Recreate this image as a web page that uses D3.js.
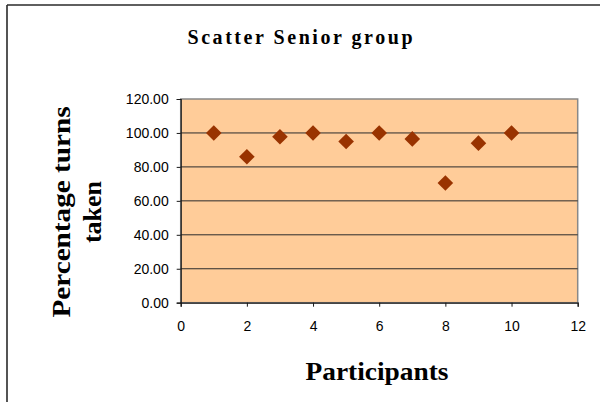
<!DOCTYPE html>
<html>
<head>
<meta charset="utf-8">
<script src="https://cdn.jsdelivr.net/npm/d3@7"></script>
<style>
html,body{margin:0;padding:0;background:#fff;}
svg{display:block;}
</style>
</head>
<body>
<svg id="chart" width="600" height="402"></svg>
<script>
const participants = [1, 2, 3, 4, 5, 6, 7, 8, 9, 10];
const percentTaken = [100, 86, 97.8, 100, 95, 100, 96.5, 70.5, 94, 100];
const xTicks = [0, 2, 4, 6, 8, 10, 12];
const yTicks = [0, 20, 40, 60, 80, 100, 120];
const titleText = "Scatter Senior group";
const xTitle = "Participants";
const yTitleLines = ["Percentage turns", "taken"];

const svg = d3.select("#chart");
const pLeft = 180.7, pRight = 577.7, pTop = 99, pBottom = 302.7;

const x = d3.scaleLinear().domain([0, 12]).range([pLeft, pRight]);
const y = d3.scaleLinear().domain([0, 120]).range([pBottom, pTop]);

// outer chart border (top and left only visible)
svg.append("line").attr("x1", 7).attr("x2", 600).attr("y1", 5).attr("y2", 5)
  .attr("stroke", "#2a2a2a").attr("stroke-width", 1.6);
svg.append("line").attr("x1", 7).attr("x2", 7).attr("y1", 5).attr("y2", 402)
  .attr("stroke", "#2a2a2a").attr("stroke-width", 1.6);

// plot area
svg.append("rect").attr("x", pLeft).attr("y", pTop)
  .attr("width", pRight - pLeft).attr("height", pBottom - pTop)
  .attr("fill", "#FFCC99").attr("stroke", "#888").attr("stroke-width", 1.5);

// gridlines
svg.append("g").selectAll("line").data(yTicks.filter(d => d > 0 && d < 120)).join("line")
  .attr("x1", pLeft).attr("x2", pRight)
  .attr("y1", d => y(d)).attr("y2", d => y(d))
  .attr("stroke", "#2b2b2b").attr("stroke-width", 1);

// axes
const yAxis = d3.axisLeft(y).tickValues(yTicks).tickFormat(d3.format(".2f")).tickSize(4).tickPadding(8);
const xAxis = d3.axisBottom(x).tickValues(xTicks).tickFormat(d3.format("d")).tickSize(4).tickPadding(14);

const gy = svg.append("g").attr("transform", `translate(${pLeft},0)`).call(yAxis);
const gx = svg.append("g").attr("transform", `translate(0,${pBottom})`).call(xAxis);
[gx, gy].forEach(g => {
  g.select(".domain").attr("stroke", "#1a1a1a").attr("stroke-width", 1.2);
  g.selectAll(".tick line").attr("stroke", "#1a1a1a").attr("stroke-width", 1);
  g.selectAll(".tick text").attr("fill", "#000")
    .style("font-family", "Liberation Sans, Arial, sans-serif").style("font-size", "14px");
});

// markers
const diamond = d3.symbol().type(d3.symbolDiamond2).size(155);
svg.append("g").selectAll("path").data(participants).join("path")
  .attr("d", diamond)
  .attr("transform", (d, i) => `translate(${x(d)},${y(percentTaken[i])})`)
  .attr("fill", "#993300");

// titles
svg.append("text").attr("x", 300).attr("y", 44).attr("text-anchor", "middle")
  .style("font-family", "Liberation Serif, Times New Roman, serif").style("font-weight", "bold")
  .style("font-size", "20px").attr("textLength", 225).attr("lengthAdjust", "spacing")
  .text(titleText);

svg.append("text").attr("x", 377).attr("y", 380).attr("text-anchor", "middle")
  .style("font-family", "Liberation Serif, Times New Roman, serif").style("font-weight", "bold")
  .style("font-size", "26px").attr("textLength", 143).attr("lengthAdjust", "spacingAndGlyphs")
  .text(xTitle);

const yt = svg.append("g").attr("transform", "translate(0,212) rotate(-90)");
yt.append("text").attr("x", 0).attr("y", 70).attr("text-anchor", "middle")
  .style("font-family", "Liberation Serif, Times New Roman, serif").style("font-weight", "bold")
  .style("font-size", "26px").attr("textLength", 211).attr("lengthAdjust", "spacingAndGlyphs")
  .text(yTitleLines[0]);
yt.append("text").attr("x", 0).attr("y", 101).attr("text-anchor", "middle")
  .style("font-family", "Liberation Serif, Times New Roman, serif").style("font-weight", "bold")
  .style("font-size", "26px")
  .text(yTitleLines[1]);
</script>
</body>
</html>
